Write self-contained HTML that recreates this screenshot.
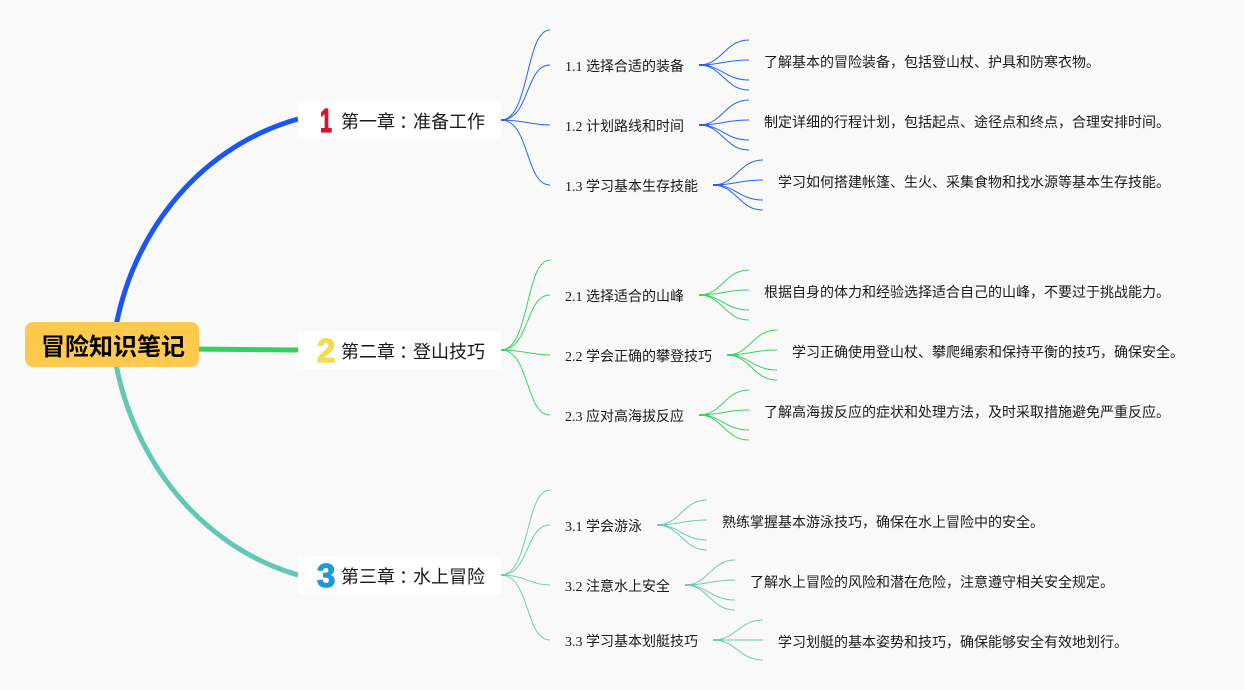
<!DOCTYPE html>
<html lang="zh">
<head>
<meta charset="utf-8">
<title>冒险知识笔记</title>
<style>
html,body{margin:0;padding:0;background:#f9f9fa;width:1244px;height:690px;overflow:hidden}
svg{display:block}
text{font-family:"Liberation Serif","WenQuanYi Zen Hei","Noto Sans CJK SC",sans-serif;fill:#1a1a1a}
.m{font-size:18px}
.s{font-size:14px}
.r{font-size:24px;font-weight:bold;font-family:"Liberation Sans","Noto Sans CJK SC",sans-serif;fill:#000}
.n{font-family:"Liberation Sans",sans-serif;font-weight:bold;font-size:33px;stroke-linejoin:round;stroke-width:1.2px}
.b path{fill:none;stroke:#2a62ee;stroke-width:1}
.g path{fill:none;stroke:#3fd066;stroke-width:1}
.t path{fill:none;stroke:#6fcbb6;stroke-width:1}
</style>
</head>
<body>
<svg width="1244" height="690" viewBox="0 0 1244 690" xmlns="http://www.w3.org/2000/svg">
<rect width="1244" height="690" fill="#f9f9fa"/>

<!-- main branches -->
<path d="M113,345 C126,240 195,148 298,119" fill="none" stroke="#1a55f5" stroke-width="5"/>
<path d="M190,349 L298,350" fill="none" stroke="#2fd35a" stroke-width="5"/>
<path d="M113,345 C126,450 195,545 298,575" fill="none" stroke="#62c8b4" stroke-width="5"/>

<!-- root -->
<rect x="25" y="322" width="174" height="45" rx="8" fill="#ffc94d"/>
<text class="r" x="41" y="355">冒险知识笔记</text>

<!-- chapter nodes -->
<rect x="298" y="101" width="203" height="38" rx="2" fill="#fff"/>
<rect x="298" y="331" width="203" height="38" rx="2" fill="#fff"/>
<rect x="298" y="556" width="203" height="38" rx="2" fill="#fff"/>
<text class="n" transform="translate(320 132) scale(0.65 1)" x="0" y="0" style="fill:#d9132f;stroke:#d9132f">1</text>
<text class="n" x="317" y="362" style="fill:#f5da4f;stroke:#f5da4f">2</text>
<text class="n" x="317" y="587" style="fill:#1f9ad9;stroke:#1f9ad9">3</text>
<text class="m" x="341" y="128">第一章<tspan dx="4">&#xFF1A;</tspan><tspan dx="-4">准备工作</tspan></text>
<text class="m" x="341" y="358">第二章<tspan dx="4">&#xFF1A;</tspan><tspan dx="-4">登山技巧</tspan></text>
<text class="m" x="341" y="583">第三章<tspan dx="4">&#xFF1A;</tspan><tspan dx="-4">水上冒险</tspan></text>

<!-- group 1 connectors -->
<g class="b">
<path d="M501,120 C530,120 525,30 550,30"/>
<path d="M501,120 C530,120 525,65 550,65"/>
<path d="M501,120 C525,120 530,125 550,125"/>
<path d="M501,120 C530,120 525,185 550,185"/>
<path d="M699,65 C722,65 725,40 749,40"/>
<path d="M699,65 C722,65 725,60 749,60"/>
<path d="M699,65 C722,65 725,80 749,80"/>
<path d="M699,65 C722,65 725,90 749,90"/>
<path d="M699,125 C722,125 725,100 749,100"/>
<path d="M699,125 C722,125 725,120 749,120"/>
<path d="M699,125 C722,125 725,140 749,140"/>
<path d="M699,125 C722,125 725,150 749,150"/>
<path d="M713,185 C736,185 739,160 763,160"/>
<path d="M713,185 C736,185 739,180 763,180"/>
<path d="M713,185 C736,185 739,200 763,200"/>
<path d="M713,185 C736,185 739,210 763,210"/>
<path style="stroke-width:2" d="M699,65 H709 M699,125 H709 M713,185 H723 M501,120 H507"/>
</g>

<!-- group 2 connectors -->
<g class="g">
<path d="M501,350 C530,350 525,260 550,260"/>
<path d="M501,350 C530,350 525,295 550,295"/>
<path d="M501,350 C525,350 530,355 550,355"/>
<path d="M501,350 C530,350 525,415 550,415"/>
<path d="M699,295 C722,295 725,270 749,270"/>
<path d="M699,295 C722,295 725,290 749,290"/>
<path d="M699,295 C722,295 725,310 749,310"/>
<path d="M699,295 C722,295 725,320 749,320"/>
<path d="M727,355 C750,355 753,330 777,330"/>
<path d="M727,355 C750,355 753,350 777,350"/>
<path d="M727,355 C750,355 753,370 777,370"/>
<path d="M727,355 C750,355 753,380 777,380"/>
<path d="M699,415 C722,415 725,390 749,390"/>
<path d="M699,415 C722,415 725,410 749,410"/>
<path d="M699,415 C722,415 725,430 749,430"/>
<path d="M699,415 C722,415 725,440 749,440"/>
<path style="stroke-width:2" d="M699,295 H709 M727,355 H737 M699,415 H709 M501,350 H507"/>
</g>

<!-- group 3 connectors -->
<g class="t">
<path d="M501,575 C530,575 525,490 550,490"/>
<path d="M501,575 C530,575 525,525 550,525"/>
<path d="M501,575 C525,575 530,585 550,585"/>
<path d="M501,575 C530,575 525,640 550,640"/>
<path d="M657,525 C680,525 683,500 707,500"/>
<path d="M657,525 C680,525 683,520 707,520"/>
<path d="M657,525 C680,525 683,540 707,540"/>
<path d="M657,525 C680,525 683,550 707,550"/>
<path d="M685,585 C708,585 711,560 735,560"/>
<path d="M685,585 C708,585 711,580 735,580"/>
<path d="M685,585 C708,585 711,600 735,600"/>
<path d="M685,585 C708,585 711,610 735,610"/>
<path d="M713,640 C736,640 739,620 763,620"/>
<path d="M713,640 H763"/>
<path d="M713,640 C736,640 739,660 763,660"/>
<path style="stroke-width:2" d="M657,525 H667 M685,585 H695 M713,640 H723 M501,575 H507"/>
</g>

<!-- sub topics -->
<text class="s" x="565" y="71">1.1 选择合适的装备</text>
<text class="s" x="565" y="131">1.2 计划路线和时间</text>
<text class="s" x="565" y="191">1.3 学习基本生存技能</text>
<text class="s" x="565" y="301">2.1 选择适合的山峰</text>
<text class="s" x="565" y="361">2.2 学会正确的攀登技巧</text>
<text class="s" x="565" y="421">2.3 应对高海拔反应</text>
<text class="s" x="565" y="531">3.1 学会游泳</text>
<text class="s" x="565" y="591">3.2 注意水上安全</text>
<text class="s" x="565" y="646">3.3 学习基本划艇技巧</text>

<!-- details -->
<text class="s" x="764" y="67">了解基本的冒险装备&#xFF0C;包括登山杖、护具和防寒衣物。</text>
<text class="s" x="764" y="127">制定详细的行程计划&#xFF0C;包括起点、途径点和终点&#xFF0C;合理安排时间。</text>
<text class="s" x="778" y="187">学习如何搭建帐篷、生火、采集食物和找水源等基本生存技能。</text>
<text class="s" x="764" y="297">根据自身的体力和经验选择适合自己的山峰&#xFF0C;不要过于挑战能力。</text>
<text class="s" x="792" y="357">学习正确使用登山杖、攀爬绳索和保持平衡的技巧&#xFF0C;确保安全。</text>
<text class="s" x="764" y="417">了解高海拔反应的症状和处理方法&#xFF0C;及时采取措施避免严重反应。</text>
<text class="s" x="722" y="527">熟练掌握基本游泳技巧&#xFF0C;确保在水上冒险中的安全。</text>
<text class="s" x="750" y="587">了解水上冒险的风险和潜在危险&#xFF0C;注意遵守相关安全规定。</text>
<text class="s" x="778" y="647">学习划艇的基本姿势和技巧&#xFF0C;确保能够安全有效地划行。</text>
</svg>
</body>
</html>
